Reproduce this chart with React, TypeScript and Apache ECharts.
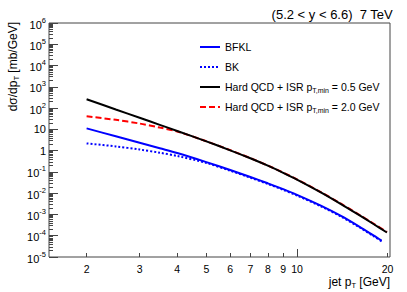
import React, { useEffect, useRef } from 'react';
import * as echarts from 'echarts';

const FONT = 'Liberation Sans';

// jet pT grid [GeV]
const ptBlue = [2, 2.5, 3, 3.5, 4, 5, 6, 7, 8, 9, 10, 12, 14, 16, 18, 19.1];
const ptHard = [2, 2.5, 3, 3.5, 4, 5, 6, 7, 8, 9, 10, 12, 14, 16, 18, 19.9];

// dσ/dpT [mb/GeV]
const bfkl = [11.1, 4.7, 2.34, 1.29, 0.77, 0.288, 0.1225, 0.0575, 0.0291, 0.01542, 0.00836, 0.0026, 8.57e-4, 2.86e-4, 1.01e-4, 5.87e-5];
const bk = [2.19, 1.584, 1.13, 0.799, 0.561, 0.263, 0.114, 0.0535, 0.0271, 0.01435, 0.00778, 0.00242, 7.97e-4, 2.66e-4, 9.4e-5, 5.46e-5];
const hard05 = [260, 86, 35, 16.3, 8.4, 2.72, 1.035, 0.437, 0.196, 0.091, 0.0436, 0.01089, 0.00308, 9.75e-4, 3.46e-4, 1.42e-4];
const hard20 = [41, 28, 18.8, 12.1, 8.0, 2.75, 1.05, 0.445, 0.2, 0.093, 0.0445, 0.0112, 0.0032, 1.02e-3, 3.65e-4, 1.52e-4];

// axis ranges and ticks
const xMin = 1.5;
const xMax = 20.37;
const xLabelValues = [2, 3, 4, 5, 6, 7, 8, 9, 10, 20];
const xSmallTicks = [2, 3, 4, 5, 6, 7, 8, 9, 20];
const xBigTicks = [10];
const yMinExp = -5;
const yMaxExp = 6;

const names = [
  'BFKL',
  'BK',
  'Hard QCD + ISR pT,min = 0.5 GeV',
  'Hard QCD + ISR pT,min = 2.0 GeV',
];

const lg = Math.log10;

function toPts(xs: number[], ys: number[]) {
  return xs.map((x, i) => [lg(x), lg(ys[i])]);
}

const yMinor: number[] = [];
for (let n = yMinExp; n < yMaxExp; n++) {
  for (let k = 2; k <= 9; k++) yMinor.push(n + lg(k));
}

const axisColor = '#444';

export default function App() {
  const ref = useRef<HTMLDivElement>(null);
  useEffect(() => {
    const chart = echarts.init(ref.current!, null, { renderer: 'svg' });
    const lineSeries = (name: string, data: number[][], color: string, type: any, z: number) => ({
      name,
      type: 'line',
      data,
      symbol: 'none',
      smooth: 0.3,
      z,
      lineStyle: { color, width: 2, type },
      itemStyle: { color },
    });
    chart.setOption({
      animation: false,
      backgroundColor: '#fff',
      title: {
        text: '(5.2 < y < 6.6)  7 TeV',
        right: 14,
        top: 8,
        padding: 0,
        textStyle: { fontFamily: FONT, fontSize: 13, fontWeight: 'normal', color: '#000' },
      },
      grid: {
        left: 49,
        top: 23,
        right: 17,
        bottom: 35,
        show: true,
        borderColor: axisColor,
        borderWidth: 1,
      },
      legend: {
        data: names,
        orient: 'vertical',
        left: 199,
        top: 40,
        padding: 0,
        itemWidth: 20,
        itemHeight: 14,
        itemGap: 6,
        itemStyle: { color: 'rgba(0,0,0,0)', borderWidth: 0, opacity: 0 },
        formatter: (n: string) => n.replace('pT,min', 'p{sub|T,min}'),
        textStyle: {
          fontFamily: FONT,
          fontSize: 10.5,
          color: '#000',
          lineHeight: 14,
          rich: {
            sub: { fontFamily: FONT, fontSize: 7, lineHeight: 7, color: '#000', verticalAlign: 'top', padding: [7, 0, 0, 0] },
          },
        },
      },
      xAxis: [
        {
          type: 'value',
          min: lg(xMin),
          max: lg(xMax),
          axisLine: { show: false, onZero: false },
          splitLine: { show: false },
          axisTick: { show: true, inside: true, length: 4, customValues: xSmallTicks.map(lg), lineStyle: { color: axisColor } },
          axisLabel: {
            show: true,
            margin: 6,
            customValues: xLabelValues.map(lg),
            formatter: (v: number) => String(Math.round(Math.pow(10, v))),
            fontFamily: FONT,
            fontSize: 10.5,
            color: '#000',
          },
        },
        {
          type: 'value',
          min: lg(xMin),
          max: lg(xMax),
          position: 'bottom',
          axisLine: { show: false, onZero: false },
          splitLine: { show: false },
          axisLabel: { show: false },
          axisTick: { show: true, inside: true, length: 8, customValues: xBigTicks.map(lg), lineStyle: { color: axisColor } },
        },
      ],
      yAxis: [
        {
          type: 'value',
          min: yMinExp,
          max: yMaxExp,
          interval: 1,
          axisLine: { show: false, onZero: false },
          splitLine: { show: false },
          axisTick: { show: true, inside: true, length: 9, lineStyle: { color: axisColor } },
          axisLabel: {
            margin: 3,
            fontFamily: FONT,
            fontSize: 11,
            color: '#000',
            formatter: (v: number) => {
              const e = Math.round(v);
              if (e === 0) return '1';
              if (e === 1) return '10';
              return '{b|10}{s|' + e + '}';
            },
            rich: {
              b: { fontFamily: FONT, fontSize: 11, color: '#000', verticalAlign: 'bottom' },
              s: { fontFamily: FONT, fontSize: 7.5, color: '#000', verticalAlign: 'top', padding: [0, 0, 6, 0] },
            },
          },
        },
        {
          type: 'value',
          min: yMinExp,
          max: yMaxExp,
          position: 'left',
          axisLine: { show: false, onZero: false },
          splitLine: { show: false },
          axisLabel: { show: false },
          axisTick: { show: true, inside: true, length: 4, customValues: yMinor, lineStyle: { color: axisColor } },
        },
      ],
      graphic: [
        {
          type: 'text',
          x: 13,
          y: 22,
          rotation: Math.PI / 2,
          style: {
            text: 'dσ/dp{s|T} [mb/GeV]',
            fontFamily: FONT,
            fontSize: 12,
            fill: '#000',
            textAlign: 'right',
            textVerticalAlign: 'middle',
            rich: {
              s: { fontFamily: FONT, fontSize: 7.5, fill: '#000', verticalAlign: 'top', padding: [7, 0, 0, 0] },
            },
          },
        },
        {
          type: 'text',
          x: 390,
          y: 282,
          style: {
            text: 'jet p{s|T} [GeV]',
            fontFamily: FONT,
            fontSize: 12,
            fill: '#000',
            textAlign: 'right',
            textVerticalAlign: 'middle',
            rich: {
              s: { fontFamily: FONT, fontSize: 7.5, fill: '#000', verticalAlign: 'top', padding: [7, 0, 0, 0] },
            },
          },
        },
      ],
      series: [
        lineSeries(names[0], toPts(ptBlue, bfkl), '#0000ff', 'solid', 2),
        lineSeries(names[1], toPts(ptBlue, bk), '#0000ff', [2, 2], 3),
        lineSeries(names[3], toPts(ptHard, hard20), '#ff0000', [6, 3], 4),
        lineSeries(names[2], toPts(ptHard, hard05), '#000000', 'solid', 5),
      ],
    });
    return () => chart.dispose();
  }, []);
  return (
    <div
      ref={ref}
      style={{ position: 'fixed', left: 0, top: 0, width: 407, height: 292, background: '#fff' }}
    />
  );
}
